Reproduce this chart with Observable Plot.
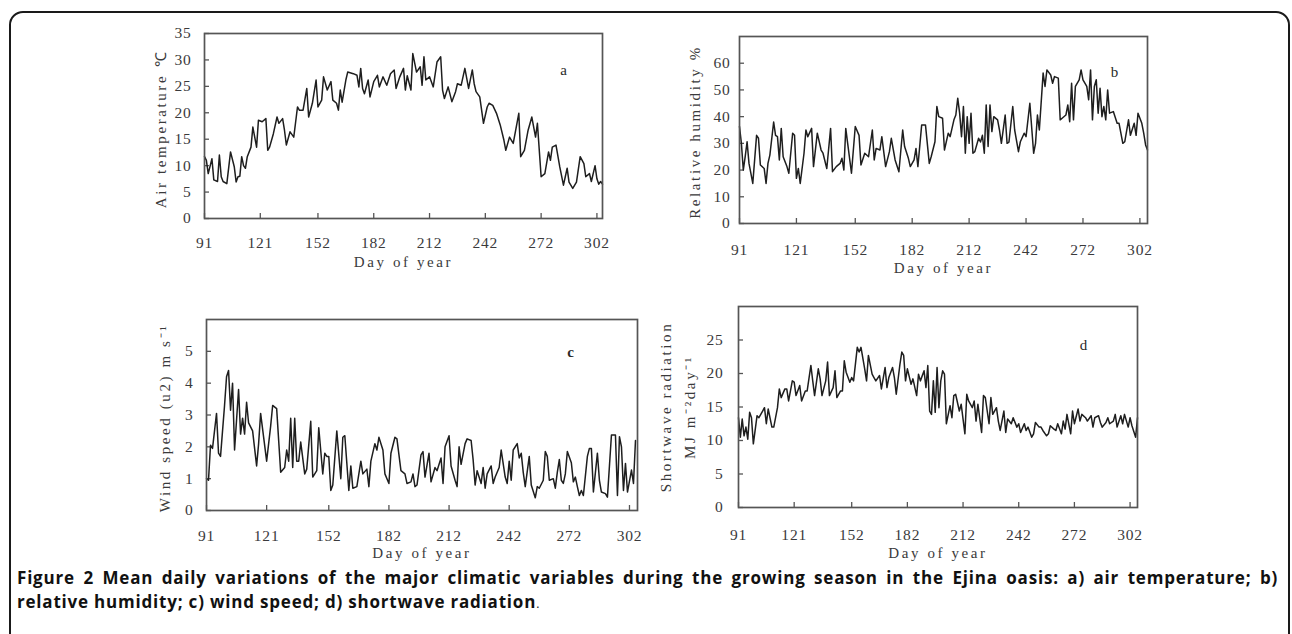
<!DOCTYPE html>
<html><head><meta charset="utf-8">
<script src="https://cdn.jsdelivr.net/npm/d3@7"></script>
<script src="https://cdn.jsdelivr.net/npm/@observablehq/plot@0.6"></script>
<style>
body{margin:0;background:#fff;width:1292px;height:634px;overflow:hidden;position:relative}
#border{position:absolute;left:9px;top:11px;width:1277px;height:700px;border:2px solid #1a1a1a;border-radius:14px}
.panel{position:absolute}
.panel svg{overflow:visible;background:transparent}
#caption{position:absolute;left:17px;top:566px;width:1261px;font:bold 17px/24px "Open Sans",sans-serif;letter-spacing:0.8px;color:#111}
#caption .l1{text-align:justify;text-align-last:justify;white-space:nowrap}
#caption .dot{font-weight:normal;font-size:12px}
</style></head>
<body>
<div id="border"></div>
<div id="pa" class="panel"></div>
<div id="pb" class="panel"></div>
<div id="pc" class="panel"></div>
<div id="pd" class="panel"></div>
<div id="caption"><div class="l1">Figure 2 Mean daily variations of the major climatic variables during the growing season in the Ejina oasis: a) air temperature; b)</div><div class="l2">relative humidity; c) wind speed; d) shortwave radiation<span class="dot">.</span></div></div>
<script>
// ---- data ----
const xTickValues = [91, 121, 152, 182, 212, 242, 272, 302];
const xLabel = "Day of year";

const airDays = [91,92,93,95,96,98,99,100,101,103,105,107,108,109,110,111,112,113,114,116,117,119,120,122,124,125,126,128,130,131,133,134,135,137,139,141,142,144,146,147,149,151,152,154,155,157,159,160,162,163,164,165,167,168,171,173,174,175,176,177,179,180,182,184,185,187,189,191,193,194,196,198,199,200,202,203,205,207,208,209,210,212,214,216,218,219,220,222,224,226,227,229,231,233,235,236,237,239,241,243,244,246,248,250,252,253,255,257,260,261,263,265,267,269,270,272,274,276,277,278,280,282,284,286,287,289,291,293,295,296,298,299,301,302,303,304,305];
const airTemp = [11.7,11,8.5,11.3,7.3,7,12,7.9,7,6.6,12.6,9.8,6.9,7.9,8,11.7,10,9.5,11.7,13.5,17.3,13.5,18.6,18.3,18.9,12.9,13.5,16,19.2,18,18.9,16.7,13.9,16.4,15.4,21.1,20.5,20.5,24.6,19.2,21.8,26.2,21.1,22.4,26.8,24.3,25.9,22.4,21.8,20.5,24.3,22,26.2,27.7,27.4,27.1,24.9,28.4,24.6,23.6,26.2,23,25.9,27.1,24.9,26.8,25.2,27.4,28.1,24.6,26.8,28.4,24.3,27,24.3,31.2,27.7,28.7,25.2,30.6,26.2,26.8,24.9,29.6,30.6,24.3,22.7,24.9,22.1,24,25.5,25.2,28.4,24.6,28.1,25.5,24,23,18,21.1,21.8,21.4,19.9,17.7,14.8,12.9,15.4,14.2,19.9,11.7,12.9,16.7,19.2,15.4,18,7.9,8.5,12.6,11,13.5,13.9,9.8,6.3,9.5,6.9,5.7,6.9,11.7,10.4,7.9,8.5,7,10,7.5,6.5,7,6.5];
const airTicks = [0,5,10,15,20,25,30,35];

const rhDays = [91,92,93,94,95,96,97,98,99,100,101,102,104,105,106,107,109,110,111,112,113,114,116,117,119,120,121,122,123,125,126,127,129,130,132,134,135,137,139,140,142,144,145,146,147,148,150,152,154,155,157,159,161,162,163,165,166,168,170,171,173,175,177,178,180,181,183,184,185,187,189,191,192,194,195,196,198,199,201,202,204,205,206,207,208,209,210,211,212,213,214,215,217,218,219,220,221,222,223,224,225,227,228,229,231,232,233,235,236,238,239,241,242,244,246,247,248,249,251,252,253,255,256,257,259,260,261,263,264,265,266,267,268,270,271,272,274,275,276,277,278,279,280,281,282,283,284,285,286,288,290,291,293,294,296,297,299,300,301,303,304,305,306];
const rhValues = [36.3,30,20,25,30.6,22.5,18.8,15,24,33,31.9,21.9,20.6,15,22.5,25.6,38,33,32.5,23.8,35.6,25,21.3,18.8,33.8,33,16.9,20.6,15,26.3,35,32.5,35.6,21.3,33.8,27.5,26.3,20.6,35.6,19.4,21.3,22.5,24.4,20,35.6,30,18.8,36.3,33,21.9,26.3,25,35,23.8,28.1,27.5,32.5,21.3,26.9,31.9,23.8,19.4,35,28.8,24.4,21.3,23.8,28.1,21.3,36.9,36.9,22.5,25,30.6,43.8,40,39.4,27.5,33.8,32.5,38.8,40.6,46.9,41.3,32.5,43.8,26.3,40,30,41.3,26.3,26.9,31.9,30.5,33,26.3,44.4,28.8,44.4,34.4,40,38.8,35,30,40.6,30,30.5,43.8,35,26.9,30.6,33.8,32.5,45,26.3,30,40.6,35,56.3,51.3,57.5,55.6,52.5,55,54.4,38.8,39.4,40.6,44.4,38.1,52.5,38.8,51.3,53.8,57.5,53.8,51.3,46.3,57.5,38.8,51.3,53.8,41.3,50.6,40,43.8,38.8,50,41.3,41.9,37.5,37.5,30,30.6,38.8,33,37.5,33,41.3,37.5,33.8,29.4,27.5];
const rhTicks = [0,10,20,30,40,50,60];

const windDays = [91,92,93,94,96,97,98,100,101,102,103,104,105,106,107,108,109,110,111,112,114,116,117,118,121,123,124,126,128,130,131,132,133,134,135,136,137,138,140,141,143,144,146,147,149,150,151,152,153,154,156,158,159,160,162,163,164,166,168,169,171,172,173,175,176,177,179,180,182,183,185,186,188,190,191,193,194,195,196,198,199,200,202,203,205,206,208,209,210,212,213,215,216,217,218,220,221,223,224,225,226,228,229,230,231,233,234,235,237,238,240,241,242,243,244,246,247,248,249,250,252,253,255,256,257,259,260,261,262,264,265,266,267,268,269,270,271,273,274,275,276,277,278,279,281,282,283,284,286,287,288,290,291,293,295,296,297,298,299,300,301,303,304,305];
const windSpeed = [1.0,0.95,2.05,1.95,3.05,1.8,1.7,3.3,4.2,4.4,3.15,4.0,1.9,2.85,3.8,2.4,2.9,2.4,3.4,2.75,2.5,1.4,2.1,3.05,1.55,2.65,3.3,3.2,1.2,1.35,1.9,1.55,2.9,1.35,2.9,1.55,1.55,2.15,1.15,1.3,2.8,1.05,1.25,2.6,1.15,1.8,1.7,1.7,0.63,0.8,2.5,1.0,2.3,2.35,0.63,1.4,0.7,0.75,1.55,1.15,1.3,0.75,1.55,2.1,1.9,2.3,1.9,1.15,0.85,1.8,2.3,2.25,1.25,1.15,0.85,0.9,1.15,0.75,0.8,1.75,1.85,1.05,1.8,0.9,1.35,1.25,1.65,0.85,2.0,2.35,1.4,0.95,0.75,2.0,1.45,2.1,2.25,2.2,1.6,0.8,1.25,0.85,1.35,0.7,1.15,1.4,0.85,1.05,1.35,1.9,1.05,0.85,1.55,0.95,1.9,2.1,1.65,1.8,1.2,0.75,1.7,0.8,0.4,0.75,0.7,0.95,1.85,1.7,0.95,1.0,0.7,1.2,1.6,0.95,0.85,1.15,1.85,1.5,0.9,1.05,0.75,0.47,0.63,0.47,1.7,1.95,1.95,0.58,1.8,0.95,0.58,0.53,0.42,2.37,2.37,0.47,2.32,2.0,0.63,1.48,0.58,1.27,0.85,2.2];
const windTicks = [0,1,2,3,4,5];

const radDays = [91,92,93,94,95,96,97,98,99,101,102,104,105,106,107,109,110,112,113,114,116,117,118,120,121,122,124,125,127,128,130,131,132,134,135,136,138,139,140,142,143,144,146,147,148,149,151,152,153,155,156,157,159,160,161,163,164,165,167,168,170,171,172,174,175,176,178,179,180,181,182,184,185,187,188,189,191,192,193,194,195,196,197,198,199,200,201,202,203,205,206,207,208,210,211,213,214,215,217,218,219,220,222,223,224,226,227,228,230,231,232,234,235,236,238,239,241,242,243,245,246,247,249,250,251,253,254,255,257,258,259,261,262,263,265,266,267,268,270,271,272,274,275,276,278,279,281,282,283,285,286,287,289,290,291,293,294,295,297,298,299,301,302,303,305,306];
const radValues = [13.4,10.5,13.2,10.7,12,10.2,14.2,13.4,9.5,13.7,13.4,14.4,14.9,12.5,14.7,12,12,14.9,17.7,16.4,17.7,17.7,15.9,18.9,18.7,16.7,18.2,15.9,17.4,17.4,21.2,18.9,16.7,20.7,19.2,16.7,18.9,21.7,16.7,17.9,20.4,16.4,17.4,17.4,21.9,20.2,18.7,19.4,18.9,23.9,23.2,23.9,20.7,18.9,22.7,19.9,19.4,18.9,19.7,17.7,20.9,17.9,19.4,20.9,19.4,16.9,21.4,23.2,22.7,18.9,20.7,18.4,19.2,16.7,19.9,18.9,20.4,17.9,21.2,14.4,13.9,18.9,14.2,20.9,14.9,18.9,20.4,19.9,12.5,15.2,13.4,16.7,16.9,14.4,15.4,11,16.9,15.9,14.9,15.9,12.9,15.4,11.2,16.7,16.4,12.5,16.4,13.9,14.9,12.9,11.5,14.4,11.2,13.2,12.5,13.4,12,12.5,11.2,12.5,11.5,12,10.5,11,12.7,12,12,11.5,10.7,11,12.2,11.7,11.5,12.5,11,12.9,11.7,13.9,11,14.4,12.5,14.7,12.9,13.9,13.4,12.9,13.7,12,13.4,13.7,12.7,12,12.7,13.4,12.5,12.9,13.9,12,13.7,12.5,13.9,12,13.4,12.2,10.5,13.4];
const radTicks = [0,5,10,15,20,25];

// ---- layout ----
const labelFont = "Liberation Serif";
const titleFill = "#3a3a3b";
const tickFill = "#3a3a3c";
function panel(id, cfg) {
  const g = cfg.geom;
  const el = document.getElementById(id);
  el.style.left = g.left + "px";
  el.style.top = g.top + "px";
  const rows = cfg.days.map((d, i) => ({day: d, v: cfg.values[i]}));
  const chart = Plot.plot({
    width: g.w, height: g.h,
    marginLeft: g.ml, marginRight: g.mr, marginTop: g.mt, marginBottom: g.mb,
    style: {background: "transparent", fontFamily: labelFont, fontSize: "15px", color: "#3a3a3a", overflow: "visible"},
    x: {domain: cfg.xDomain},
    y: {domain: cfg.yDomain},
    marks: [
      Plot.axisX(xTickValues, {tickSize: -5, tickFormat: () => "", label: null, stroke: "#555", strokeWidth: 1.3}),
      Plot.axisX(xTickValues, {tickSize: 0, tickPadding: g.xpad, label: null, fill: tickFill, fontSize: 15.5}),
      Plot.axisY(cfg.yTicks, {tickSize: -5, tickFormat: () => "", label: null, stroke: "#555", strokeWidth: 1.3}),
      Plot.axisY(cfg.yTicks, {tickSize: 0, tickPadding: g.ypad, label: null, fill: tickFill, fontSize: 15.5}),
      Plot.line(rows, {x: "day", y: "v", stroke: "#1e1e1e", strokeWidth: 1.5, strokeLinejoin: "round"}),
      Plot.frame({stroke: "#555", strokeWidth: 1.7}),
      Plot.text([xLabel], {text: d => d, frameAnchor: "bottom", textAnchor: "middle", lineAnchor: "middle", dy: g.xlab, fontSize: 15, fill: titleFill}),
      Plot.text([cfg.ylabel], {text: d => d, frameAnchor: "left", textAnchor: "middle", lineAnchor: "middle", rotate: -90, dx: g.ylab, dy: g.ydy || 0, lineHeight: g.lh || 1, fontSize: 15, fill: titleFill}),
      Plot.text([cfg.letter], {text: d => d, frameAnchor: "top-right", textAnchor: "middle", lineAnchor: "middle", dx: g.ldx, dy: g.ldy, fontSize: 15, fontWeight: cfg.letterWeight || "normal", fill: "#2a2a2a"})
    ]
  });
  d3.select(chart).selectAll(`g[fill="${titleFill}"] text`).attr("letter-spacing", "2.6px");
  d3.select(chart).selectAll(`g[fill="${tickFill}"] text`).attr("letter-spacing", "0.8px");
  el.appendChild(chart);
}

panel("pa", {days: airDays, values: airTemp, xDomain: [91, 305], yDomain: [0, 35], yTicks: airTicks,
  ylabel: "Air temperature ℃", letter: "a",
  geom: {left: 130, top: 0, w: 490, h: 285, ml: 74, mr: 18, mt: 33, mb: 67, xpad: 18, ypad: 13, xlab: 44, ylab: -43, ydy: 3, ldx: -39, ldy: 37}});
panel("pb", {days: rhDays, values: rhValues, xDomain: [91, 306], yDomain: [0, 70], yTicks: rhTicks,
  ylabel: "Relative humidity %", letter: "b",
  geom: {left: 670, top: 0, w: 500, h: 290, ml: 69, mr: 23, mt: 36, mb: 67, xpad: 20, ypad: 9, xlab: 45, ylab: -44, ydy: 2, ldx: -33, ldy: 36}});
panel("pc", {days: windDays, values: windSpeed, xDomain: [91, 306], yDomain: [0, 6], yTicks: windTicks,
  ylabel: "Wind speed (u2) m s⁻¹", letter: "c", letterWeight: "bold",
  geom: {left: 130, top: 290, w: 520, h: 280, ml: 76, mr: 13, mt: 29, mb: 60, xpad: 19, ypad: 13, xlab: 43, ylab: -41, ydy: 3, ldx: -67, ldy: 33}});
panel("pd", {days: radDays, values: radValues, xDomain: [91, 306], yDomain: [0, 30], yTicks: radTicks,
  ylabel: "Shortwave radiation\nMJ m⁻²day⁻¹", letter: "d",
  geom: {left: 640, top: 290, w: 520, h: 280, ml: 98, mr: 23, mt: 16, mb: 63, xpad: 21, ypad: 15, xlab: 46, ylab: -63.5, ydy: 0, lh: 1.65, ldx: -54, ldy: 39}});
</script>
</body></html>
